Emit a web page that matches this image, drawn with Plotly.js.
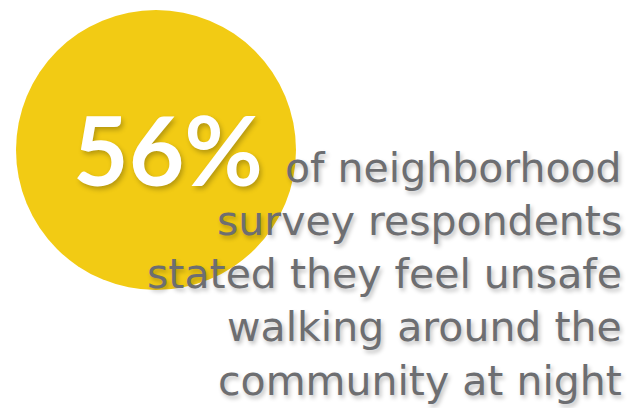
<!DOCTYPE html>
<html>
<head>
<meta charset="utf-8">
<script src="https://cdn.plot.ly/plotly-3.0.1.min.js"></script>
<style>html,body{margin:0;padding:0;background:#fff;}#chart{width:641px;height:408px;}</style>
</head>
<body>
<div id="chart"></div>
<script>
// Data
var statValue = 56;
var statSuffix = "%";
var textLines = [
  "of neighborhood",
  "survey respondents",
  "stated they feel unsafe",
  "walking around the",
  "community at night"
];
var lineBaselines = [182, 235, 288, 341, 395];

// Styling
var yellow = "#f2cb14";
var grey = "#6d6e71";
var shadow = "2px 3px 4px rgba(0,0,0,0.25)";
var textSize = 41;

var annotations = textLines.map(function (t, i) {
  return {
    x: 624, y: lineBaselines[i] - 14,
    xref: "x", yref: "y",
    xanchor: "right", yanchor: "middle",
    text: t, showarrow: false,
    font: {family: "DejaVu Sans, sans-serif", size: textSize, color: grey, shadow: shadow}
  };
});
annotations.push({
  x: 168, y: 148,
  xref: "x", yref: "y",
  xanchor: "center", yanchor: "middle",
  text: "<b>" + statValue + statSuffix + "</b>", showarrow: false,
  font: {family: "Lato, sans-serif", size: 96, color: "#ffffff", weight: 900, shadow: "2px 3px 5px rgba(0,0,0,0.25)"}
});

var layout = {
  width: 641, height: 408,
  margin: {l: 0, r: 0, t: 0, b: 0},
  paper_bgcolor: "#ffffff", plot_bgcolor: "#ffffff",
  showlegend: false,
  xaxis: {range: [0, 641], visible: false, fixedrange: true},
  yaxis: {range: [408, 0], visible: false, fixedrange: true},
  shapes: [{
    type: "circle", xref: "x", yref: "y",
    x0: 16, x1: 296, y0: 10, y1: 290,
    fillcolor: yellow, line: {width: 0}, layer: "below"
  }],
  annotations: annotations
};

Plotly.newPlot("chart", [], layout, {displayModeBar: false, staticPlot: true});
</script>
</body>
</html>
